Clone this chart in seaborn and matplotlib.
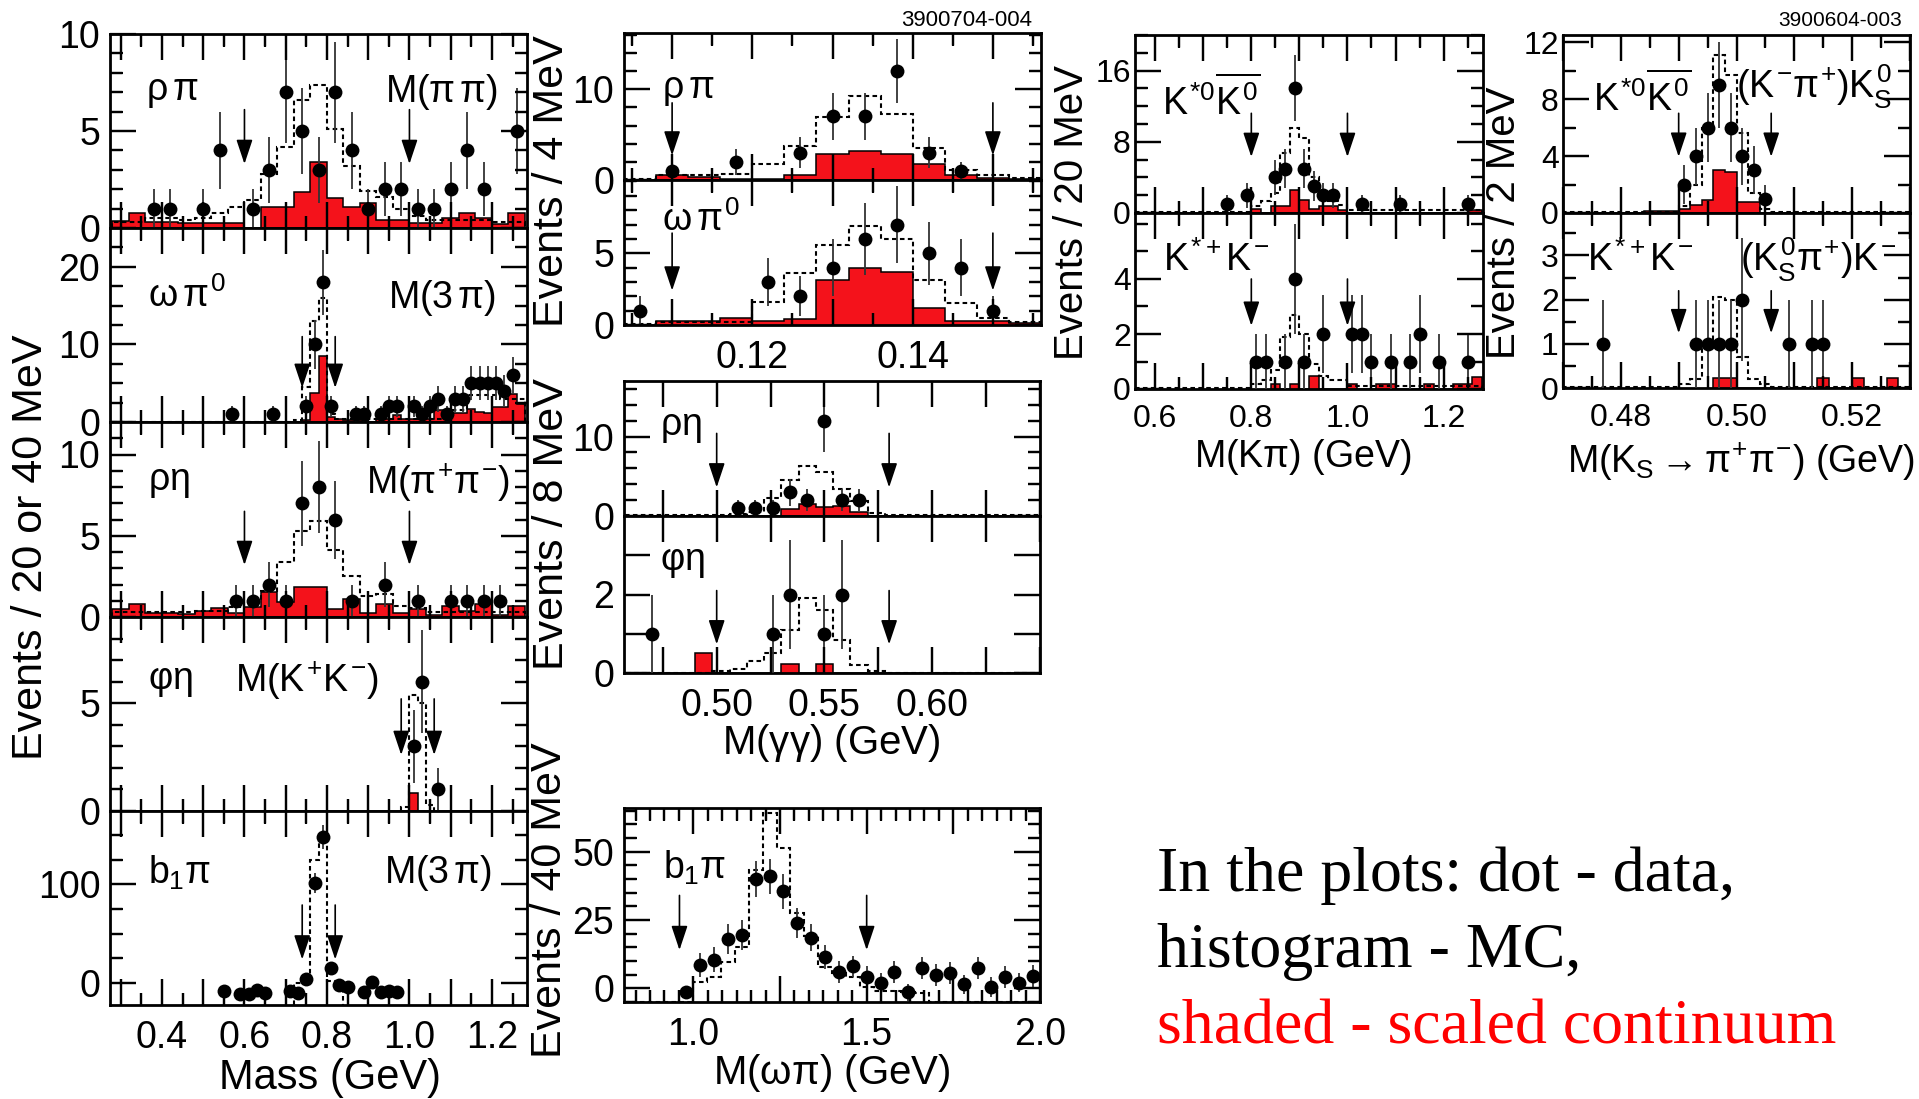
"""
Event yields in the psi(2S) two-body channels : data points, signal MC and scaled continuum.
"""

import numpy as np
import matplotlib
matplotlib.use("Agg")
import matplotlib.pyplot as plt
from matplotlib.ticker import MultipleLocator, FuncFormatter
import seaborn as sns

sns.set_theme(style="ticks")
plt.rcParams["font.family"] = ["Liberation Sans", "DejaVu Sans"]
plt.rcParams.update({
    "mathtext.fontset": "custom",
    "mathtext.rm": "Liberation Sans",
    "mathtext.it": "Liberation Sans",
    "mathtext.bf": "Liberation Sans:bold",
    "mathtext.sf": "Liberation Sans",
    "axes.edgecolor": "black",
    "axes.axisbelow": False,
    "text.color": "black",
    "xtick.color": "black",
    "ytick.color": "black",
})

RED = "#f4121b"

### Left column : resonance masses (40 or 20 MeV bins)
# rho pi, M(pi pi)
rp_x = [0.38, 0.42, 0.50, 0.54, 0.62, 0.66, 0.70, 0.74, 0.78, 0.82, 0.86, 0.90, 0.94, 0.98, 1.02, 1.06, 1.10, 1.14, 1.18, 1.26]
rp_y = [1, 1, 1, 4, 1, 3, 7, 5, 3, 7, 4, 1, 2, 2, 1, 1, 2, 4, 2, 5]
rp_err = [1, 1, 1, 2, 1, 1.7, 2.6, 2.2, 1.7, 2.6, 2, 1, 1.4, 1.4, 1, 1, 1.4, 2, 1.4, 2.2]
rp_red = [0.34, 0.77, 0.3, 0.3, 0.25, 0.25, 0.25, 0.25, 0.0, 1.08, 1.08, 1.83, 3.4, 1.54, 1.08, 1.28,
          0.43, 0.43, 0.25, 0.25, 0.5, 0.77, 0.5, 0.2, 0.77]
rp_mc = [0.3, 0.3, 0.5, 0.5, 0.4, 0.5, 0.77, 1.1, 1.45, 2.8, 4.2, 6.6, 7.35, 5.1, 3.2, 1.9,
         1.6, 1.0, 0.6, 0.4, 0.4, 0.4, 0.4, 0.3, 0.3]
rp_cuts = [0.60, 1.00]

# omega pi0, M(3 pi)
wp_x = [0.57, 0.67, 0.75, 0.77, 0.79, 0.81, 0.87, 0.89, 0.93, 0.95, 0.97, 1.01, 1.03, 1.05, 1.07, 1.09,
        1.11, 1.13, 1.15, 1.17, 1.19, 1.21, 1.23, 1.25]
wp_y = [1, 1, 2, 10, 18, 2, 1, 1, 1, 2, 2, 2, 1, 2, 3, 1, 3, 3, 5, 5, 5, 5, 4, 6]
wp_err = [1, 1, 1.4, 3.2, 4.2, 1.4, 1, 1, 1, 1.4, 1.4, 1.4, 1, 1.4, 1.7, 1, 1.7, 1.7, 2.2, 2.2, 2.2, 2.2, 2, 2.4]
wp_red_edges = [0.28, 0.74, 0.76, 0.78, 0.80, 0.82, 0.84, 0.90, 0.92, 0.96, 0.98, 1.02, 1.06, 1.10,
                1.14, 1.16, 1.18, 1.20, 1.24, 1.26, 1.28]
wp_red = [0.0, 0.3, 3.8, 8.5, 0.7, 0.45, 0.2, 0.0, 0.35, 0.9, 0.35, 0.45, 1.5, 1.1, 1.7, 1.3, 1.1, 1.9, 3.6, 2.3]
wp_mc_edges = [0.28, 0.72, 0.74, 0.76, 0.78, 0.80, 0.82, 1.08, 1.14, 1.22, 1.28]
wp_mc = [0.0, 0.3, 4.5, 13.0, 16.0, 1.0, 0.4, 1.5, 3.5, 3.0]
wp_cuts = [0.74, 0.82]

# rho eta, M(pi+ pi-)
re_x = [0.58, 0.62, 0.66, 0.70, 0.74, 0.78, 0.82, 0.86, 0.94, 1.02, 1.10, 1.14, 1.18, 1.22]
re_y = [1, 1, 2, 1, 7, 8, 6, 1, 2, 1, 1, 1, 1, 1]
re_err = [1, 1, 1.4, 1, 2.6, 2.8, 2.4, 1, 1.4, 1, 1, 1, 1, 1]
re_red = [0.5, 0.8, 0.27, 0.27, 0.2, 0.4, 0.55, 0.27, 0.6, 1.55, 0.93, 1.86, 1.86, 0.5, 1.1, 0.27,
          0.8, 0.27, 0.5, 0.15, 0.7, 0.4, 0.8, 0.15, 0.7]
re_mc = [0.3, 0.3, 0.3, 0.3, 0.3, 0.35, 0.4, 0.6, 0.9, 1.6, 3.4, 5.3, 5.9, 4.1, 2.5, 1.3,
         1.4, 0.7, 0.55, 0.3, 0.3, 0.3, 0.3, 0.3, 0.3]
re_cuts = [0.60, 1.00]

# phi eta, M(K+ K-)
pe_x = [1.01, 1.03, 1.07]
pe_y = [3, 6, 1]
pe_err = [1.7, 2.4, 1.0]
pe_red_edges = [1.00, 1.02]
pe_red = [0.85]
pe_mc_edges = [0.98, 1.00, 1.02, 1.04, 1.06]
pe_mc = [0.2, 5.4, 5.0, 0.3]
pe_cuts = [0.98, 1.06]

# b1 pi, M(3 pi)
b_x = [0.55, 0.59, 0.61, 0.63, 0.65, 0.71, 0.73, 0.75, 0.77, 0.79, 0.81, 0.83, 0.85, 0.89, 0.91, 0.93, 0.95, 0.97]
b_y = [-8, -11, -11, -7, -10, -8, -10, 4, 101, 148, 15, -2, -4, -9, 1, -9, -8, -9]
b_err = [4, 4, 4, 4, 4, 4, 4, 5, 10, 12, 6, 5, 5, 4, 5, 4, 4, 4]
b_mc_edges = [0.72, 0.74, 0.76, 0.78, 0.80, 0.82, 0.84]
b_mc = [0.0, 2.0, 124.0, 150.0, 2.0, 0.0]
b_cuts = [0.74, 0.82]

### Middle column : pi0 (4 MeV), eta (8 MeV) and omega pi (40 MeV)
m1_x = [0.110, 0.118, 0.126, 0.130, 0.134, 0.138, 0.142, 0.146]
m1_y = [1, 2, 3, 7, 7, 12, 3, 1]
m1_err = [1, 1.4, 1.7, 2.6, 2.6, 3.5, 1.7, 1]
m1_red = [0, 0.6, 0.3, 0.1, 0.1, 0.6, 2.9, 3.2, 2.9, 1.8, 0.6, 0.2, 0.1]
m1_mc = [0.1, 0.6, 0.5, 0.7, 1.8, 3.8, 6.9, 9.3, 7.3, 3.5, 1.1, 0.5, 0.2]

m2_x = [0.106, 0.122, 0.126, 0.130, 0.134, 0.138, 0.142, 0.146, 0.150]
m2_y = [1, 3, 2, 4, 6, 7, 5, 4, 1]
m2_err = [1, 1.7, 1.4, 2, 2.5, 2.65, 2.2, 2, 1]
m2_red = [0, 0.25, 0.25, 0.5, 0.25, 0.45, 3.1, 3.95, 3.7, 1.15, 0.3, 0.25, 0.15]
m2_mc = [0.1, 0.2, 0.2, 0.2, 1.6, 3.6, 5.6, 6.9, 6.0, 3.1, 1.5, 0.5, 0.2]
pi0_cuts = [0.110, 0.150]

m3_x = [0.510, 0.518, 0.526, 0.534, 0.542, 0.550, 0.558, 0.566]
m3_y = [1, 1, 1, 3, 2, 12, 2, 2]
m3_err = [1, 1, 1, 1.7, 1.4, 4.0, 1.4, 1.4]
m3_red = [0.05, 0.05, 0.05, 0.05, 0.05, 0.05, 0.05, 0.05, 0.05, 0.85, 1.5, 1.1,
          1.3, 0.45, 0.05, 0.05, 0.05, 0.05, 0.05, 0.05, 0.05, 0.05, 0.05, 0.05]
m3_mc = [0.1, 0.1, 0.1, 0.1, 0.1, 0.1, 0.2, 0.5, 2.3, 4.5, 6.3, 5.5,
         3.4, 1.9, 0.4, 0.1, 0.1, 0.1, 0.1, 0.1, 0.1, 0.1, 0.1, 0.1]

m4_x = [0.470, 0.526, 0.534, 0.550, 0.558]
m4_y = [1, 1, 2, 1, 2]
m4_err = [1, 1, 1.4, 1, 1.4]
m4_red = [0, 0, 0, 0, 0.5, 0, 0, 0, 0, 0.24, 0, 0.24,
          0, 0, 0, 0, 0, 0, 0, 0, 0, 0, 0, 0]
m4_mc = [0, 0, 0, 0, 0, 0.05, 0.1, 0.3, 0.5, 1.1, 1.9, 1.6,
         0.85, 0.2, 0.05, 0, 0, 0, 0, 0, 0, 0, 0, 0]
eta_cuts = [0.50, 0.58]

m5_x = [0.98, 1.02, 1.06, 1.10, 1.14, 1.18, 1.22, 1.26, 1.30, 1.34, 1.38, 1.42, 1.46,
        1.50, 1.54, 1.58, 1.62, 1.66, 1.70, 1.74, 1.78, 1.82, 1.86, 1.90, 1.94, 1.98]
m5_y = [-1.5, 8.5, 10.5, 18, 19.5, 40, 41, 35.5, 24, 18.5, 11.5, 6, 8,
        4, 2, 6, -1.5, 7.5, 5, 5.5, 1.5, 7.5, 0.5, 4, 2, 4.5]
m5_err = [2.5, 4.5, 4.5, 5.5, 5.5, 6.5, 6.5, 6.5, 5.5, 5, 4.5, 4, 4,
          4, 3.5, 4, 3, 4, 4, 4, 3.5, 4, 3.5, 4, 3.5, 4]
m5_mc = [-5, -5, -5, -5, -5, 2.4, 4.3, 9.8, 15.2, 43.3, 64, 51.2, 27.4, 19, 7.9,
         5.5, 4.3, 0.6, -0.8, -1.0, -1.5, -1.8, -5, -5, -5, -5, -5, -5, -5, -5]
m5_cuts = [0.96, 1.50]

### Right columns : K* K
r1a_x = [0.75, 0.79, 0.85, 0.87, 0.89, 0.91, 0.93, 0.95, 0.97, 1.03, 1.11, 1.25]
r1a_y = [1, 2, 4, 5, 14, 5, 3, 2, 2, 1, 1, 1]
r1a_err = [1, 1.4, 2, 2.2, 3.7, 2.2, 1.7, 1.4, 1.4, 1, 1, 1]
r1a_red_edges = [0.80, 0.82, 0.84, 0.88, 0.90, 0.92, 0.94, 0.98, 1.00, 1.25, 1.28]
r1a_red = [0.5, 0, 0.75, 2.6, 1.45, 0.5, 0.75, 0.3, 0, 0.35]
r1a_mc_edges = [0.56, 0.80, 0.82, 0.84, 0.86, 0.88, 0.90, 0.92, 0.94, 0.96, 0.98, 1.00, 1.28]
r1a_mc = [0.1, 0.8, 1.3, 2.2, 6.7, 9.5, 8.4, 4.0, 2.6, 1.4, 0.9, 0.3]

r1b_x = [0.81, 0.83, 0.87, 0.89, 0.91, 0.95, 1.01, 1.03, 1.05, 1.09, 1.13, 1.15, 1.19, 1.25]
r1b_y = [1, 1, 1, 4, 1, 2, 2, 2, 1, 1, 1, 2, 1, 1]
r1b_err = [1, 1, 1, 2, 1, 1.4, 1.4, 1.4, 1, 1, 1, 1.4, 1, 1]
r1b_red_edges = [0.84, 0.86, 0.88, 0.90, 0.92, 0.94, 1.00, 1.02, 1.06, 1.10, 1.16, 1.18, 1.22, 1.26, 1.28]
r1b_red = [0.2, 0, 0.2, 0, 0.46, 0, 0.18, 0, 0.18, 0, 0.18, 0, 0.18, 0.42]
r1b_mc_edges = [0.56, 0.80, 0.82, 0.84, 0.86, 0.88, 0.90, 0.92, 0.94, 0.96, 1.00, 1.28]
r1b_mc = [0.05, 0.2, 0.34, 0.7, 1.9, 2.7, 2.0, 0.9, 0.46, 0.34, 0.1]
kpi_cuts = [0.80, 1.00]

r2a_x = [0.491, 0.493, 0.495, 0.497, 0.499, 0.501, 0.503, 0.505]
r2a_y = [2, 4, 6, 9, 6, 4, 3, 1]
r2a_err = [1.4, 2, 2.4, 3, 2.4, 2, 1.7, 1]
r2a_red_edges = [0.484, 0.490, 0.492, 0.494, 0.496, 0.498, 0.500, 0.504]
r2a_red = [0.14, 0.3, 0.54, 0.94, 3.0, 2.9, 0.78]
r2a_mc_edges = [0.470, 0.490, 0.492, 0.494, 0.496, 0.498, 0.500, 0.502, 0.504, 0.506, 0.530]
r2a_mc = [0.05, 0.5, 2.0, 6.0, 11.1, 9.7, 5.6, 1.4, 0.3, 0.05]

r2b_x = [0.477, 0.493, 0.495, 0.497, 0.499, 0.501, 0.509, 0.513, 0.515]
r2b_y = [1, 1, 1, 1, 1, 2, 1, 1, 1]
r2b_err = [1, 1, 1, 1, 1, 1.4, 1, 1, 1]
r2b_red_edges = [0.496, 0.500, 0.514, 0.516, 0.520, 0.522, 0.526, 0.528]
r2b_red = [0.23, 0, 0.23, 0, 0.23, 0, 0.23]
r2b_mc_edges = [0.470, 0.490, 0.492, 0.494, 0.496, 0.498, 0.500, 0.502, 0.504, 0.506, 0.530]
r2b_mc = [0.02, 0.08, 0.2, 1.0, 2.05, 2.0, 0.7, 0.2, 0.08, 0.02]
ks_cuts = [0.490, 0.506]

# tick labels
mass_ticks, mass_labels = [0.4, 0.6, 0.8, 1.0, 1.2], ["0.4", "0.6", "0.8", "1.0", "1.2"]
pi0_ticks, pi0_labels = [0.12, 0.14], ["0.12", "0.14"]
eta_ticks, eta_labels = [0.50, 0.55, 0.60], ["0.50", "0.55", "0.60"]
wpi_ticks, wpi_labels = [1.0, 1.5, 2.0], ["1.0", "1.5", "2.0"]
kpi_ticks, kpi_labels = [0.6, 0.8, 1.0, 1.2], ["0.6", "0.8", "1.0", "1.2"]
ks_ticks, ks_labels = [0.48, 0.50, 0.52], ["0.48", "0.50", "0.52"]

### Figure
W, H = 1919, 1099
fig = plt.figure(figsize=(W / 100, H / 100), dpi=100)


def fig_text(x, y, s, **kw):
    fig.text(x / W, 1 - y / H, s, **kw)


def uniform(start, width, n):
    return start + width * np.arange(n + 1)


def label_only(values, labels):
    table = {round(v, 4): s for v, s in zip(values, labels)}
    return FuncFormatter(lambda v, pos: table.get(round(v, 4), ""))


def panel(box, xlim, ylim, px, py, pe, red=None, mc=None, cuts=None):
    l, t, r, b = box
    ax = fig.add_axes([l / W, 1 - b / H, (r - l) / W, (b - t) / H])
    if red is not None:
        ax.stairs(red[1], red[0], baseline=ylim[0], fill=True, facecolor=RED,
                  edgecolor="black", linewidth=1.1, zorder=2)
    if mc is not None:
        ax.stairs(mc[1], mc[0], baseline=ylim[0], fill=False, edgecolor="black",
                  linestyle=(0, (2.2, 1.6)), linewidth=1.5, zorder=3)
    ax.errorbar(px, py, yerr=pe, fmt="none", ecolor="#333333", elinewidth=1.3, capsize=0, zorder=4)
    sns.scatterplot(x=px, y=py, ax=ax, color="black", s=100, linewidth=0, zorder=5, legend=False)
    if cuts is not None:
        xs, tip, tail = cuts
        for xa in xs:
            ax.annotate("", xy=(xa, tip), xytext=(xa, tail), zorder=6,
                        arrowprops=dict(arrowstyle="-|>,head_length=1.5,head_width=0.5", color="black",
                                        lw=1.2, shrinkA=0, shrinkB=0, mutation_scale=10))
    ax.set_xlim(xlim)
    ax.set_ylim(ylim)
    return ax


def ticks(ax, xmaj, xmin, xt, xl, yt, yl, ymin, fs, show_x, ypad):
    ax.xaxis.set_major_locator(MultipleLocator(xmaj))
    if xmin:
        ax.xaxis.set_minor_locator(MultipleLocator(xmin))
    ax.xaxis.set_major_formatter(label_only(xt, xl))
    ax.set_yticks(yt, yl)
    if ymin:
        ax.yaxis.set_minor_locator(MultipleLocator(ymin))
    ax.tick_params(which="both", direction="in", top=True, right=True, bottom=True, left=True,
                   width=1.6, color="black", labelsize=fs)
    ax.tick_params(which="major", length=19)
    ax.tick_params(which="minor", length=9)
    ax.tick_params(axis="x", pad=11, labelbottom=show_x)
    ax.tick_params(axis="y", pad=ypad)
    for sp in ax.spines.values():
        sp.set_linewidth(2.0)
        sp.set_color("black")


def tag(ax, x, y, s, ha="left", fs=27):
    ax.text(x, y, s, transform=ax.transAxes, ha=ha, va="center", fontsize=fs, zorder=7)


### Left column
LX = (0.274, 1.285)
ax = panel((110, 34, 527, 228), LX, (0, 10), rp_x, rp_y, rp_err,
           red=(uniform(0.28, 0.04, 25), rp_red), mc=(uniform(0.28, 0.04, 25), rp_mc), cuts=(rp_cuts, 3.3, 6.1))
ticks(ax, 0.1, 0.05, mass_ticks, mass_labels, [0, 5, 10], ["0", "5", "10"], 1, 27, False, 7)
tag(ax, 0.086, 0.70, r"$\rho\,\pi$")
tag(ax, 0.93, 0.70, r"M($\pi\,\pi$)", ha="right")

ax = panel((110, 228, 527, 422), LX, (0, 25), wp_x, wp_y, wp_err,
           red=(wp_red_edges, wp_red), mc=(wp_mc_edges, wp_mc), cuts=(wp_cuts, 4.4, 11))
ticks(ax, 0.1, 0.05, mass_ticks, mass_labels, [0, 10, 20], ["0", "10", "20"], 2.5, 27, False, 7)
tag(ax, 0.09, 0.65, r"$\omega\,\pi^{0}$")
tag(ax, 0.926, 0.64, r"M(3$\,\pi$)", ha="right")

ax = panel((110, 422, 527, 617), LX, (0, 12), re_x, re_y, re_err,
           red=(uniform(0.28, 0.04, 25), re_red), mc=(uniform(0.28, 0.04, 25), re_mc), cuts=(re_cuts, 3.2, 6.5))
ticks(ax, 0.1, 0.05, mass_ticks, mass_labels, [0, 5, 10], ["0", "5", "10"], 1, 27, False, 7)
tag(ax, 0.09, 0.69, r"$\rho\eta$")
tag(ax, 0.96, 0.69, r"M($\pi^{+}\pi^{-}$)", ha="right")

ax = panel((110, 617, 527, 811), LX, (0, 9), pe_x, pe_y, pe_err,
           red=(pe_red_edges, pe_red), mc=(pe_mc_edges, pe_mc), cuts=(pe_cuts, 2.6, 5.2))
ticks(ax, 0.1, 0.05, mass_ticks, mass_labels, [0, 5], ["0", "5"], 1, 27, False, 7)
tag(ax, 0.09, 0.67, r"$\varphi\eta$")
tag(ax, 0.30, 0.67, r"M($K^{+}K^{-}$)")

ax = panel((110, 811, 527, 1005), LX, (-22, 174), b_x, b_y, b_err,
           mc=(b_mc_edges, b_mc), cuts=(b_cuts, 24, 79))
ticks(ax, 0.1, 0.05, mass_ticks, mass_labels, [0, 100], ["0", "100"], 25, 27, True, 7)
tag(ax, 0.09, 0.68, r"$b_{1}\pi$")
tag(ax, 0.916, 0.68, r"M(3$\,\pi$)", ha="right")

### Middle column
PX = (0.104, 0.156)
ax = panel((624, 33, 1041, 180), PX, (0, 16.2), m1_x, m1_y, m1_err,
           red=(uniform(0.104, 0.004, 13), m1_red), mc=(uniform(0.104, 0.004, 13), m1_mc), cuts=(pi0_cuts, 2.7, 8.5))
ticks(ax, 0.01, 0.005, pi0_ticks, pi0_labels, [0, 10], ["0", "10"], 2, 27, False, 7)
tag(ax, 0.09, 0.61, r"$\rho\,\pi$")

ax = panel((624, 180, 1041, 325), PX, (0, 10.1), m2_x, m2_y, m2_err,
           red=(uniform(0.104, 0.004, 13), m2_red), mc=(uniform(0.104, 0.004, 13), m2_mc), cuts=(pi0_cuts, 2.4, 6.4))
ticks(ax, 0.01, 0.005, pi0_ticks, pi0_labels, [0, 5], ["0", "5"], 1, 27, True, 7)
tag(ax, 0.09, 0.72, r"$\omega\,\pi^{0}$")

EX = (0.457, 0.650)
ax = panel((624, 381, 1040, 516), EX, (0, 17), m3_x, m3_y, m3_err,
           red=(uniform(0.458, 0.008, 24), m3_red), mc=(uniform(0.458, 0.008, 24), m3_mc), cuts=(eta_cuts, 3.6, 10.4))
ticks(ax, 0.025, None, eta_ticks, eta_labels, [0, 10], ["0", "10"], 2, 27, False, 7)
tag(ax, 0.087, 0.66, r"$\rho\eta$")

ax = panel((624, 516, 1040, 673), EX, (0, 4), m4_x, m4_y, m4_err,
           red=(uniform(0.458, 0.008, 24), m4_red), mc=(uniform(0.458, 0.008, 24), m4_mc), cuts=(eta_cuts, 0.73, 2.1))
ticks(ax, 0.025, None, eta_ticks, eta_labels, [0, 1, 2, 3], ["0", "", "2", ""], None, 27, True, 7)
tag(ax, 0.087, 0.71, r"$\varphi\eta$")

ax = panel((624, 808, 1040, 1002), (0.80, 2.00), (-5, 66), m5_x, m5_y, m5_err,
           mc=(uniform(0.80, 0.04, 30), m5_mc), cuts=(m5_cuts, 14, 34))
ticks(ax, 0.25, 0.25 / 6, wpi_ticks, wpi_labels, [0, 25, 50], ["0", "25", "50"], 5, 27, True, 7)
tag(ax, 0.094, 0.69, r"$b_{1}\pi$")

### Right columns
KX = (0.558, 1.282)
ax = panel((1135, 35, 1483, 213), KX, (0, 20), r1a_x, r1a_y, r1a_err,
           red=(r1a_red_edges, r1a_red), mc=(r1a_mc_edges, r1a_mc), cuts=(kpi_cuts, 6.3, 11.2))
ticks(ax, 0.1, 0.05, kpi_ticks, kpi_labels, [0, 8, 16], ["0", "8", "16"], 2, 23, False, 3)
tag(ax, 0.077, 0.635, r"$K^{*0}\overline{K^{0}}$")

ax = panel((1135, 213, 1483, 389), KX, (0, 6.4), r1b_x, r1b_y, r1b_err,
           red=(r1b_red_edges, r1b_red), mc=(r1b_mc_edges, r1b_mc), cuts=(kpi_cuts, 2.3, 4.0))
ticks(ax, 0.1, 0.05, kpi_ticks, kpi_labels, [0, 2, 4], ["0", "2", "4"], 1, 23, True, 3)
tag(ax, 0.08, 0.73, r"$K^{*+}K^{-}$")

SX = (0.470, 0.530)
ax = panel((1563, 35, 1910, 213), SX, (0, 12.5), r2a_x, r2a_y, r2a_err,
           red=(r2a_red_edges, r2a_red), mc=(r2a_mc_edges, r2a_mc), cuts=(ks_cuts, 3.95, 7.0))
ticks(ax, 0.01, 0.005, ks_ticks, ks_labels, [0, 4, 8, 12], ["0", "4", "8", "12"], 2, 23, False, 3)
tag(ax, 0.087, 0.653, r"$K^{*0}\overline{K^{0}}$")
tag(ax, 0.95, 0.71, r"$(K^{-}\pi^{+})K_{S}^{0}$", ha="right")

ax = panel((1563, 213, 1910, 388), SX, (0, 3.96), r2b_x, r2b_y, r2b_err,
           red=(r2b_red_edges, r2b_red), mc=(r2b_mc_edges, r2b_mc), cuts=(ks_cuts, 1.24, 2.2))
ticks(ax, 0.01, 0.005, ks_ticks, ks_labels, [0, 1, 2, 3], ["0", "1", "2", "3"], 0.5, 23, True, 3)
tag(ax, 0.069, 0.73, r"$K^{*+}K^{-}$")
tag(ax, 0.96, 0.73, r"$(K_{S}^{0}\pi^{+})K^{-}$", ha="right")

### Axis titles
fig_text(31, 547, "Events / 20 or 40 MeV", rotation=90, ha="center", va="center", fontsize=31)
fig_text(552, 181, "Events / 4 MeV", rotation=90, ha="center", va="center", fontsize=31)
fig_text(552, 524, "Events / 8 MeV", rotation=90, ha="center", va="center", fontsize=31)
fig_text(550, 900, "Events / 40 MeV", rotation=90, ha="center", va="center", fontsize=31)
fig_text(1072, 213, "Events / 20 MeV", rotation=90, ha="center", va="center", fontsize=29)
fig_text(1504, 223, "Events / 2 MeV", rotation=90, ha="center", va="center", fontsize=29)

fig_text(330, 1078, "Mass (GeV)", ha="center", va="center", fontsize=30)
fig_text(831, 743, r"M($\gamma\gamma$) (GeV)", ha="center", va="center", fontsize=29)
fig_text(832, 1073, r"M($\omega\pi$) (GeV)", ha="center", va="center", fontsize=29)
fig_text(1303, 457, r"M(K$\pi$) (GeV)", ha="center", va="center", fontsize=27)
fig_text(1741, 462, r"M($K_{S}\rightarrow\pi^{+}\pi^{-}$) (GeV)", ha="center", va="center", fontsize=27)

fig_text(1032, 20, "3900704-004", ha="right", va="center", fontsize=16)
fig_text(1902, 21, "3900604-003", ha="right", va="center", fontsize=15)

### Legend text
fig_text(1157, 891, "In the plots: dot - data,", ha="left", va="baseline", fontsize=46, family="Liberation Serif")
fig_text(1157, 967, "histogram - MC,", ha="left", va="baseline", fontsize=46, family="Liberation Serif")
fig_text(1157, 1043, "shaded - scaled continuum", ha="left", va="baseline", fontsize=46,
         family="Liberation Serif", color="red")

### Inward tick marks, drawn again as line segments so they always show
fig.canvas.draw()
MAJ_PX, MIN_PX = 26, 12
for a in fig.axes:
    bb = a.get_window_extent()
    x0, x1 = sorted(a.get_xlim())
    y0, y1 = sorted(a.get_ylim())
    for locs, size in ((a.xaxis.get_majorticklocs(), MAJ_PX), (a.xaxis.get_minorticklocs(), MIN_PX)):
        locs = [v for v in locs if x0 <= v <= x1]
        frac = size / bb.height
        a.vlines(locs, 0, frac, transform=a.get_xaxis_transform(), colors="black", linewidth=1.6, zorder=8)
        a.vlines(locs, 1 - frac, 1, transform=a.get_xaxis_transform(), colors="black", linewidth=1.6, zorder=8)
    for locs, size in ((a.yaxis.get_majorticklocs(), MAJ_PX), (a.yaxis.get_minorticklocs(), MIN_PX)):
        locs = [v for v in locs if y0 <= v <= y1]
        frac = size / bb.width
        a.hlines(locs, 0, frac, transform=a.get_yaxis_transform(), colors="black", linewidth=1.6, zorder=8)
        a.hlines(locs, 1 - frac, 1, transform=a.get_yaxis_transform(), colors="black", linewidth=1.6, zorder=8)
    a.set_xlim(x0, x1) if a.get_xlim()[0] <= a.get_xlim()[1] else None
    a.set_ylim(y0, y1)

fig.savefig("out.png", dpi=100)
